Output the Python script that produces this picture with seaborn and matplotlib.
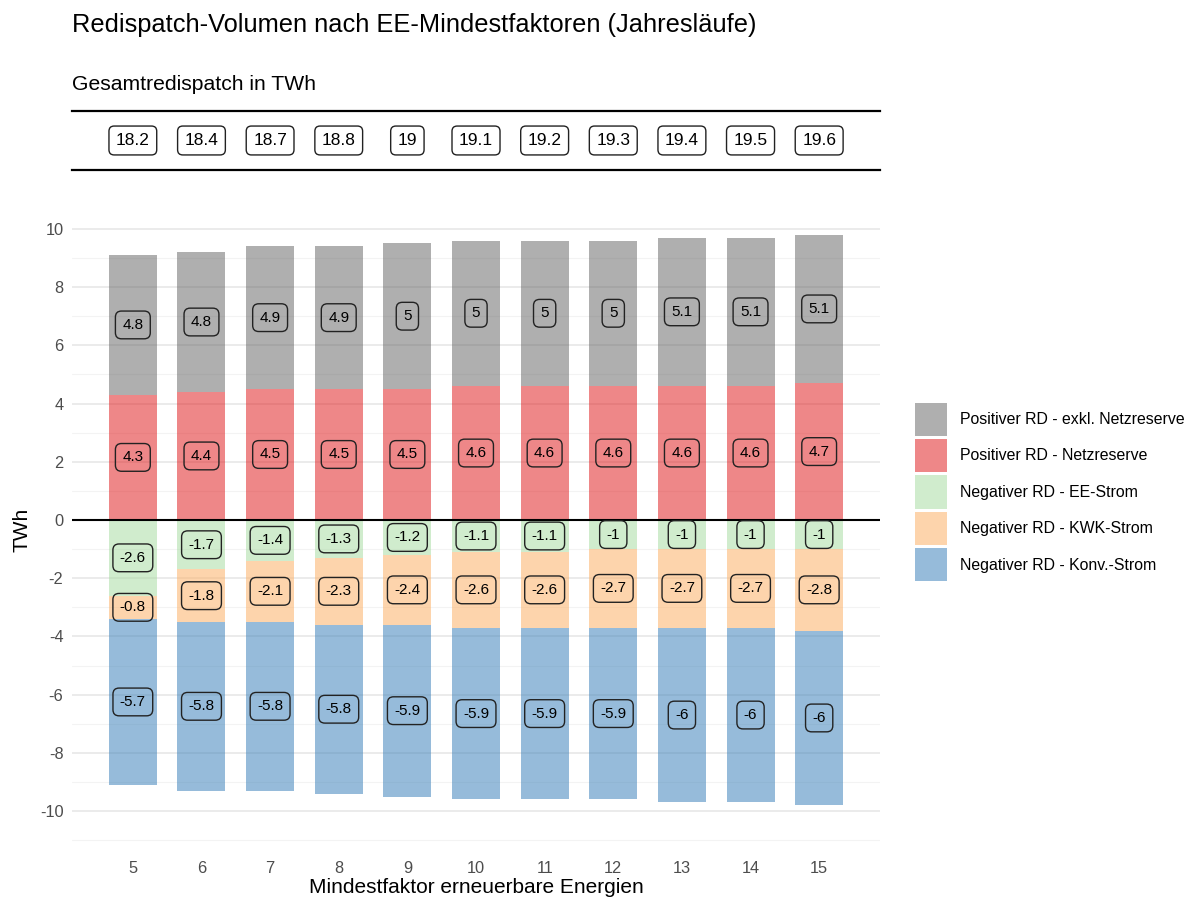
import matplotlib.pyplot as plt
import matplotlib.patches as mpatches
import seaborn as sns
import pandas as pd
import numpy as np

# ---------------------------
# DATA
# ---------------------------
faktor = [5, 6, 7, 8, 9, 10, 11, 12, 13, 14, 15]
pos_exkl_nr = [4.8, 4.8, 4.9, 4.9, 5.0, 5.0, 5.0, 5.0, 5.1, 5.1, 5.1]
pos_nr = [4.3, 4.4, 4.5, 4.5, 4.5, 4.6, 4.6, 4.6, 4.6, 4.6, 4.7]
neg_ee = [-2.6, -1.7, -1.4, -1.3, -1.2, -1.1, -1.1, -1.0, -1.0, -1.0, -1.0]
neg_kwk = [-0.8, -1.8, -2.1, -2.3, -2.4, -2.6, -2.6, -2.7, -2.7, -2.7, -2.8]
neg_konv = [-5.7, -5.8, -5.8, -5.8, -5.9, -5.9, -5.9, -5.9, -6.0, -6.0, -6.0]
gesamt = [18.2, 18.4, 18.7, 18.8, 19.0, 19.1, 19.2, 19.3, 19.4, 19.5, 19.6]

legend_labels = [
    "Positiver RD - exkl. Netzreserve",
    "Positiver RD - Netzreserve",
    "Negativer RD - EE-Strom",
    "Negativer RD - KWK-Strom",
    "Negativer RD - Konv.-Strom",
]
colors = ["#666666", "#E0191B", "#A6DBA0", "#FDAE61", "#377EB8"]
ALPHA = 0.52

df = pd.DataFrame({
    "faktor": faktor,
    "pos_exkl_nr": pos_exkl_nr,
    "pos_nr": pos_nr,
    "neg_ee": neg_ee,
    "neg_kwk": neg_kwk,
    "neg_konv": neg_konv,
})
zero = np.zeros(len(faktor))
df["b_nr"] = zero
df["b_exkl"] = df["pos_nr"]
df["b_ee"] = zero
df["b_kwk"] = df["neg_ee"]
df["b_konv"] = df["neg_ee"] + df["neg_kwk"]

# (value column, bottom column, color)
layers = [
    ("pos_nr", "b_nr", colors[1]),
    ("pos_exkl_nr", "b_exkl", colors[0]),
    ("neg_ee", "b_ee", colors[2]),
    ("neg_kwk", "b_kwk", colors[3]),
    ("neg_konv", "b_konv", colors[4]),
]

# ---------------------------
# STYLE
# ---------------------------
sns.set_theme(style="white")
plt.rcParams["font.family"] = ["Liberation Sans", "DejaVu Sans"]
plt.rcParams["axes.unicode_minus"] = False
plt.rcParams["text.color"] = "black"
plt.rcParams["axes.labelcolor"] = "black"

fig = plt.figure(figsize=(11.96, 8.98), dpi=100)
ax = fig.add_axes([0.060, 0.0546, 0.676, 0.710])

for col, base, color in layers:
    sns.barplot(data=df, x="faktor", y=col, bottom=df[base].to_numpy(),
                native_scale=True, width=0.7, color=color, saturation=1,
                alpha=ALPHA, errorbar=None, linewidth=0, ax=ax)

# segment labels
for col, base, color in layers:
    for xv, v, b in zip(df["faktor"], df[col], df[base]):
        ax.text(xv, b + v / 2, f"{v:g}", ha="center", va="center",
                fontsize=11, color="black", zorder=5,
                bbox=dict(boxstyle="round,pad=0.45,rounding_size=0.4",
                          facecolor="none", edgecolor="#222222", linewidth=1))

ax.axhline(0, color="black", linewidth=1.5, zorder=4)

ax.set_xlim(4.11, 15.89)
ax.set_ylim(-11.3, 10.6)
ax.set_xticks(faktor)
ax.set_yticks(np.arange(-10, 11, 2))
ax.set_yticks(np.arange(-11, 11, 1), minor=True)
ax.set_axisbelow(True)
ax.grid(axis="y", which="major", color="#e6e6e6", linewidth=1.1)
ax.grid(axis="y", which="minor", color="#f3f3f3", linewidth=0.8)
ax.grid(axis="x", visible=False)
for s in ax.spines.values():
    s.set_visible(False)
ax.tick_params(axis="both", which="both", length=0, labelsize=11.8,
               labelcolor="#4d4d4d")
ax.tick_params(axis="y", pad=6)
ax.tick_params(axis="x", pad=9)
ax.set_xlabel("Mindestfaktor erneuerbare Energien", fontsize=15, labelpad=1)
ax.set_ylabel("TWh", fontsize=15, labelpad=6)

# top strip with totals
ax_top = fig.add_axes([0.060, 0.8107, 0.676, 0.0657])
ax_top.set_xlim(ax.get_xlim())
ax_top.set_ylim(0, 1)
ax_top.set_xticks([])
ax_top.set_yticks([])
ax_top.set_facecolor("none")
for side in ["left", "right"]:
    ax_top.spines[side].set_visible(False)
for side in ["top", "bottom"]:
    ax_top.spines[side].set_color("black")
    ax_top.spines[side].set_linewidth(1.6)
for xv, t in zip(faktor, gesamt):
    ax_top.text(xv, 0.5, f"{t:g}", ha="center", va="center", fontsize=12.5,
                bbox=dict(boxstyle="round,pad=0.4,rounding_size=0.3",
                          facecolor="white", edgecolor="#222222", linewidth=1))

fig.text(0.060, 1 - 25 / 898, "Redispatch-Volumen nach EE-Mindestfaktoren (Jahresläufe)",
         fontsize=18.3, va="center", ha="left")
fig.text(0.060, 1 - 85 / 898, "Gesamtredispatch in TWh",
         fontsize=15.2, va="center", ha="left")

handles = [mpatches.Patch(facecolor=c, alpha=ALPHA, edgecolor="none") for c in colors]
fig.legend(handles, legend_labels, loc="center left", bbox_to_anchor=(0.760, 0.452),
           frameon=False, fontsize=11.4, handlelength=2.0, handleheight=2.85,
           labelspacing=0.2, handletextpad=0.8, borderaxespad=0)

fig.savefig("out.png", dpi=100)
plt.close(fig)
